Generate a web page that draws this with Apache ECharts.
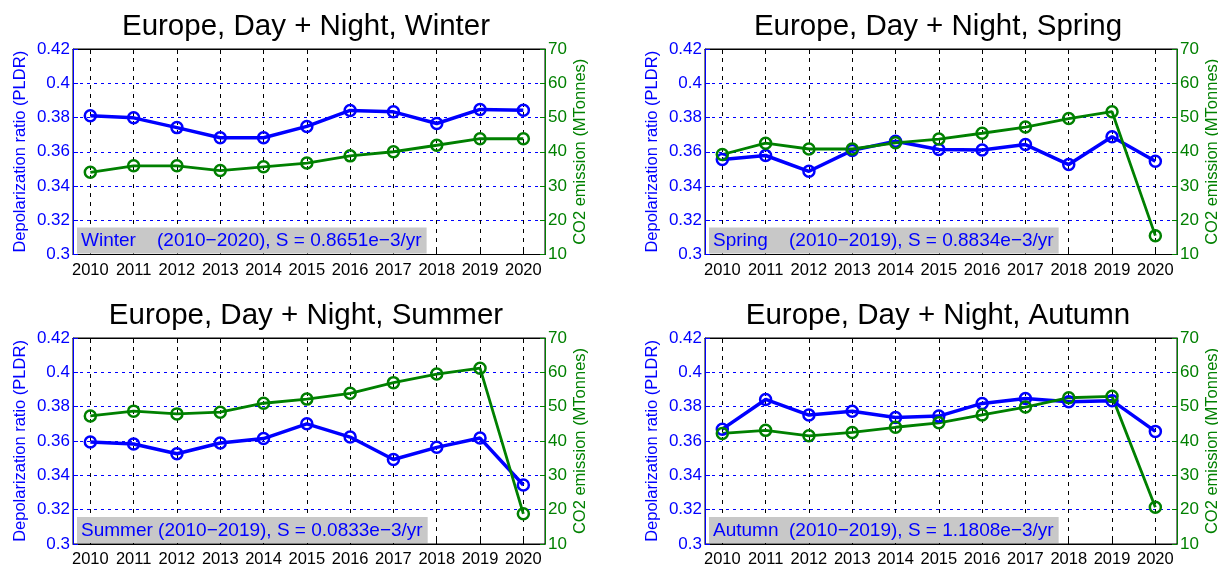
<!DOCTYPE html>
<html>
<head>
<meta charset="utf-8">
<script src="https://cdn.jsdelivr.net/npm/echarts@6/dist/echarts.min.js"></script>
<style>
  html, body { margin: 0; padding: 0; background: #ffffff; }
  #chart { width: 1218px; height: 567px; }
</style>
</head>
<body>
<div id="chart"></div>
<script>
// Years on the x axis (also the x tick labels)
const years = [2010, 2011, 2012, 2013, 2014, 2015, 2016, 2017, 2018, 2019, 2020];

// Particle linear depolarization ratio, Europe, day + night, per season
const pldrWinter = [0.3810, 0.3798, 0.3741, 0.3682, 0.3682, 0.3748, 0.3841, 0.3833, 0.3765, 0.3847, 0.3842];
const pldrSpring = [0.3555, 0.3578, 0.3486, 0.3608, 0.3661, 0.3613, 0.3610, 0.3642, 0.3525, 0.3688, 0.3545];
const pldrSummer = [0.3594, 0.3583, 0.3526, 0.3588, 0.3614, 0.3700, 0.3623, 0.3492, 0.3563, 0.3617, 0.3344];
const pldrAutumn = [0.3669, 0.3842, 0.3751, 0.3773, 0.3737, 0.3745, 0.3819, 0.3847, 0.3829, 0.3835, 0.3656];

// CO2 emission (MTonnes) per season
const co2Winter = [34.0, 35.9, 35.9, 34.5, 35.6, 36.7, 38.8, 40.0, 41.9, 43.8, 43.8];
const co2Spring = [39.2, 42.5, 40.8, 40.8, 42.6, 43.7, 45.4, 47.2, 49.7, 51.7, 15.5];
const co2Summer = [47.3, 48.7, 47.9, 48.4, 51.0, 52.2, 53.9, 57.0, 59.5, 61.2, 18.8];
const co2Autumn = [42.2, 43.1, 41.5, 42.5, 44.0, 45.3, 47.6, 49.9, 52.6, 53.0, 20.7];

const seasons = ['Winter', 'Spring', 'Summer', 'Autumn'];
const panelTitles = seasons.map(s => 'Europe, Day + Night, ' + s);
const trendNotes = [
  'Winter    (2010\u22122020), S = 0.8651e\u22123/yr',
  'Spring    (2010\u22122019), S = 0.8834e\u22123/yr',
  'Summer (2010\u22122019), S = 0.0833e\u22123/yr',
  'Autumn  (2010\u22122019), S = 1.1808e\u22123/yr'
];
const pldrSeries = [pldrWinter, pldrSpring, pldrSummer, pldrAutumn];
const co2Series = [co2Winter, co2Spring, co2Summer, co2Autumn];

const leftName = 'Depolarization ratio (PLDR)';
const rightName = 'CO2 emission (MTonnes)';

// Panel layout (pixels)
const FONT = '"Liberation Sans", Arial, Helvetica, sans-serif';
const BLUE = '#0000ff';
const GREEN = '#008000';
const PW = 472;
const panels = [
  { left: 73,  top: 49,  height: 205.5 },
  { left: 705, top: 49,  height: 205.5 },
  { left: 73,  top: 338, height: 206 },
  { left: 705, top: 338, height: 206 }
];

const grids = [], xAxes = [], yAxes = [], series = [], graphics = [];

panels.forEach((p, i) => {
  grids.push({
    left: p.left, top: p.top, width: PW, height: p.height,
    show: true, borderColor: '#000', borderWidth: 1, backgroundColor: '#fff',
    containLabel: false, outerBoundsMode: 'none'
  });

  // bottom year axis with dashed vertical grid
  xAxes.push({
    type: 'value', gridIndex: i, position: 'bottom', min: 2009.6, max: 2020.5,
    axisLine: { show: true, onZero: false, lineStyle: { color: '#000', width: 1 } },
    axisTick: { show: true, inside: true, length: 5, customValues: years, lineStyle: { color: '#000' } },
    axisLabel: { show: true, customValues: years, formatter: v => String(v), color: '#000',
                 fontSize: 16.5, fontFamily: FONT, margin: 7 },
    splitLine: { show: true, lineStyle: { color: '#000', width: 1, type: [4, 5] } }
  });
  // top mirror axis (box ticks only)
  xAxes.push({
    type: 'value', gridIndex: i, position: 'top', min: 2009.6, max: 2020.5,
    axisLine: { show: true, onZero: false, lineStyle: { color: '#000', width: 1 } },
    axisTick: { show: true, inside: true, length: 5, customValues: years, lineStyle: { color: '#000' } },
    axisLabel: { show: false },
    splitLine: { show: false }
  });

  yAxes.push({
    type: 'value', gridIndex: i, position: 'left', min: 0.3, max: 0.42, interval: 0.02,
    axisLine: { show: true, lineStyle: { color: BLUE, width: 1 } },
    axisTick: { show: true, inside: true, length: 5, lineStyle: { color: BLUE } },
    axisLabel: { color: BLUE, fontSize: 17, fontFamily: FONT, margin: 3 },
    splitLine: { show: true, lineStyle: { color: BLUE, width: 1, type: [3, 4] } },
    name: leftName, nameLocation: 'middle', nameRotate: 90, nameGap: 44,
    nameTextStyle: { color: BLUE, fontSize: 16.5, fontFamily: FONT }
  });
  yAxes.push({
    type: 'value', gridIndex: i, position: 'right', min: 10, max: 70, interval: 10,
    axisLine: { show: true, lineStyle: { color: GREEN, width: 1 } },
    axisTick: { show: true, inside: true, length: 5, lineStyle: { color: GREEN } },
    axisLabel: { color: GREEN, fontSize: 17, fontFamily: FONT, margin: 3 },
    splitLine: { show: false },
    name: rightName, nameLocation: 'middle', nameRotate: 90, nameGap: 27,
    nameTextStyle: { color: GREEN, fontSize: 16.5, fontFamily: FONT }
  });

  series.push({
    type: 'line', xAxisIndex: 2 * i, yAxisIndex: 2 * i, z: 3,
    data: years.map((y, k) => [y, pldrSeries[i][k]]),
    symbol: 'circle', symbolSize: 11,
    lineStyle: { color: BLUE, width: 3.5 },
    itemStyle: { color: 'rgba(0,0,0,0)', borderColor: BLUE, borderWidth: 2.5 }
  });
  series.push({
    type: 'line', xAxisIndex: 2 * i, yAxisIndex: 2 * i + 1, z: 3,
    data: years.map((y, k) => [y, co2Series[i][k]]),
    symbol: 'circle', symbolSize: 11,
    lineStyle: { color: GREEN, width: 2.8 },
    itemStyle: { color: 'rgba(0,0,0,0)', borderColor: GREEN, borderWidth: 2.5 }
  });

  // panel title
  graphics.push({
    type: 'text', x: p.left + PW / 2 - 3, y: p.top - 22, z: 100,
    style: { text: panelTitles[i], font: '29.5px ' + FONT, fill: '#000',
             align: 'center', verticalAlign: 'middle' }
  });
  // trend annotation box in the lower-left corner of the plot
  graphics.push({
    type: 'text', x: p.left + 4, y: p.top + p.height - 1, z: 100,
    style: { text: trendNotes[i], font: '19px ' + FONT, fill: BLUE,
             backgroundColor: '#c8c8c8', padding: [4, 5, 3, 4],
             align: 'left', verticalAlign: 'bottom' }
  });
});

const chart = echarts.init(document.getElementById('chart'), null, { renderer: 'canvas' });
chart.setOption({
  animation: false,
  backgroundColor: '#ffffff',
  grid: grids,
  xAxis: xAxes,
  yAxis: yAxes,
  series: series,
  graphic: graphics
});
</script>
</body>
</html>
